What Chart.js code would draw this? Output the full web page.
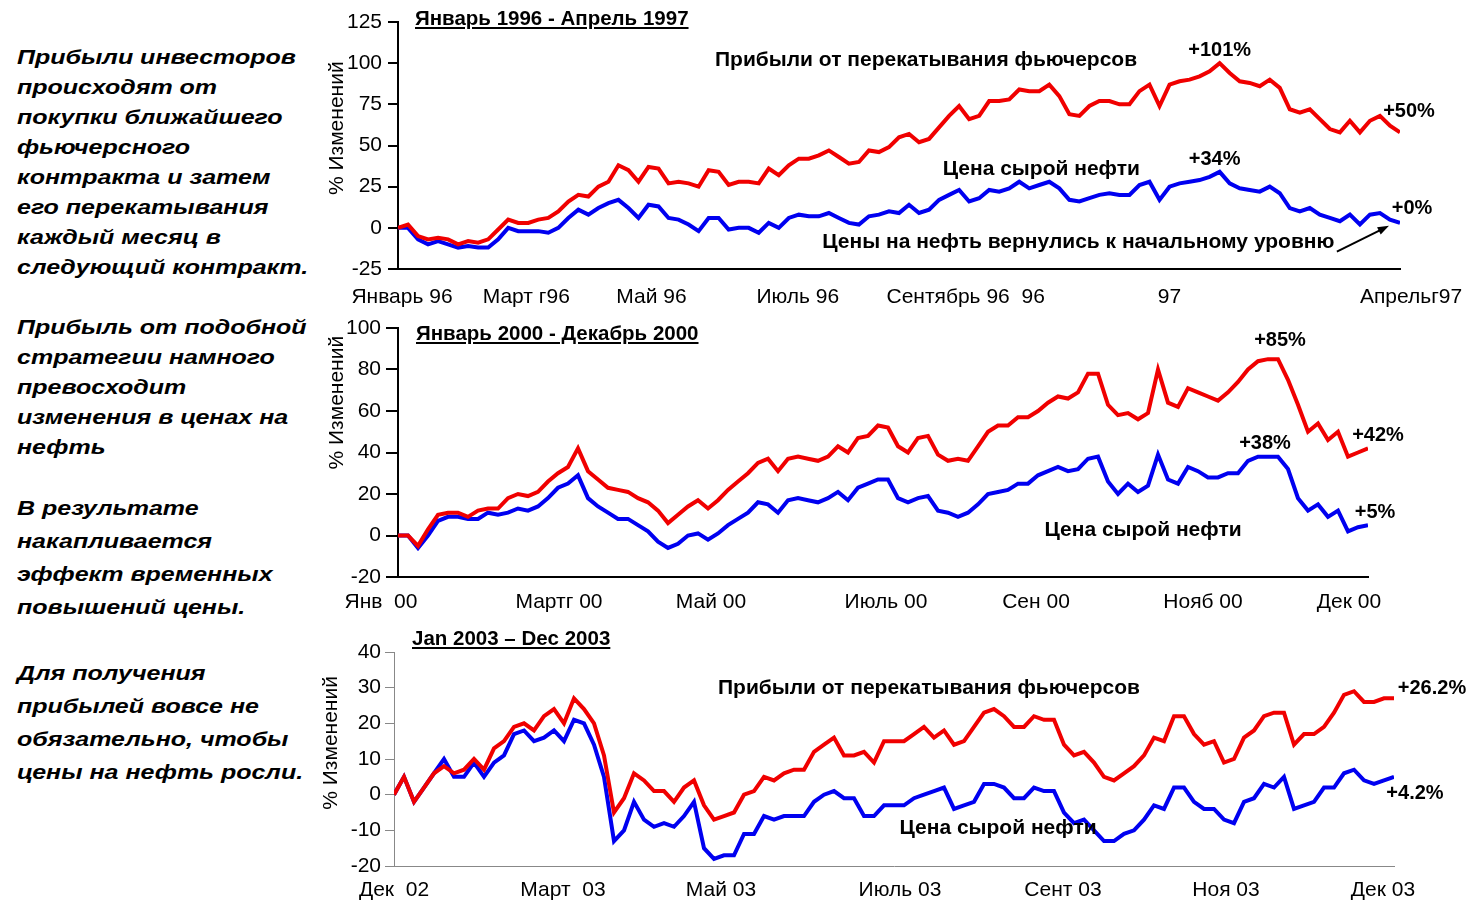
<!DOCTYPE html>
<html>
<head>
<meta charset="utf-8">
<script src="https://cdn.jsdelivr.net/npm/chart.js@4/dist/chart.umd.min.js"></script>
<style>
  body { margin:0; background:#fff; width:1482px; height:916px; overflow:hidden; position:relative;
         font-family:"Liberation Sans", Arial, sans-serif; color:#000; }
  .note { position:absolute; left:17px; font-weight:bold; font-style:italic; font-size:20px;
          transform:scaleX(1.25); transform-origin:0 0; white-space:nowrap; }
  .pan { position:absolute; left:320px; }
  .ttl { position:absolute; font-weight:bold; font-size:20.5px; line-height:24px;
         text-decoration:underline; white-space:nowrap; }
</style>
</head>
<body>

<div class="note" style="top:42px;line-height:30px">Прибыли инвесторов<br>происходят от<br>покупки ближайшего<br>фьючерсного<br>контракта и затем<br>его перекатывания<br>каждый месяц в<br>следующий контракт.</div>
<div class="note" style="top:312px;line-height:30px">Прибыль от подобной<br>стратегии намного<br>превосходит<br>изменения в ценах на<br>нефть</div>
<div class="note" style="top:492px;line-height:33px">В результате<br>накапливается<br>эффект временных<br>повышений цены.</div>
<div class="note" style="top:657px;line-height:33px">Для получения<br>прибылей вовсе не<br>обязательно, чтобы<br>цены на нефть росли.</div>

<canvas id="c1" class="pan" style="top:0px" width="1162" height="310"></canvas>
<canvas id="c2" class="pan" style="top:310px" width="1162" height="310"></canvas>
<canvas id="c3" class="pan" style="top:620px" width="1162" height="296"></canvas>

<div class="ttl" style="left:415px;top:6px">Январь 1996 - Апрель 1997</div>
<div class="ttl" style="left:416px;top:321px">Январь 2000 - Декабрь 2000</div>
<div class="ttl" style="left:412px;top:626px">Jan 2003 – Dec 2003</div>

<script>
// янв 1996 - апр 1997, % изменений
var redTop = [0,2,-5,-7,-6,-7,-10,-8,-9,-7,
  -1,5,3,3,5,6,10,16,20,19,
  25,28,38,35,28,37,36,27,28,27,
  25,35,34,26,28,28,27,36,32,38,
  42,42,44,47,43,39,40,47,46,49,
  55,57,52,54,61,68,74,66,68,77,
  77,78,84,83,83,87,80,69,68,74,
  77,77,75,75,83,87,74,87,89,90,
  92,95,100,94,89,88,86,90,85,72,
  70,72,66,60,58,65,58,65,68,62,
  58];
var blueTop = [0,0,-7,-10,-8,-10,-12,-11,-12,-12,
  -7,0,-2,-2,-2,-3,0,6,11,8,
  12,15,17,12,6,14,13,6,5,2,
  -2,6,6,-1,0,0,-3,3,0,6,
  8,7,7,9,6,3,2,7,8,10,
  9,14,9,11,17,20,23,16,18,23,
  22,24,28,24,26,28,24,17,16,18,
  20,21,20,20,26,28,17,25,27,28,
  29,31,34,27,24,23,22,25,21,12,
  10,12,8,6,4,8,2,8,9,5,
  3];
var topTickPos = [0.4, 12.8, 25.3, 39.9, 54.9, 63.4, 77, 101.1];
var topTickText = ['Январь 96', 'Март г96', 'Май 96', 'Июль 96', 'Сентябрь 96', '96', '97', 'Апрельг97'];

// янв 2000 - дек 2000
var redMid = [0,0,-5,3,10,11,11,9,12,13,
  13,18,20,19,21,26,30,33,42,31,
  27,23,22,21,18,16,12,6,10,14,
  17,13,17,22,26,30,35,37,31,37,
  38,37,36,38,43,40,47,48,53,52,
  43,40,47,48,39,36,37,36,43,50,
  53,53,57,57,60,64,67,66,69,78,
  78,63,58,59,56,59,80,64,62,71,
  69,67,65,69,74,80,84,85,85,75,
  63,50,54,46,50,38,40,42];
var blueMid = [0,0,-6,0,7,9,9,8,8,11,
  10,11,13,12,14,18,23,25,29,18,
  14,11,8,8,5,2,-3,-6,-4,0,
  1,-2,1,5,8,11,16,15,11,17,
  18,17,16,18,21,17,23,25,27,27,
  18,16,18,19,12,11,9,11,15,20,
  21,22,25,25,29,31,33,31,32,37,
  38,26,20,25,21,24,39,27,25,33,
  31,28,28,30,30,36,38,38,38,32,
  18,12,15,9,12,2,4,5];
var midTickPos = [-1.7, 16.1, 31.3, 48.8, 63.8, 80.5, 95.1];
var midTickText = ['Янв  00', 'Мартг 00', 'Май 00', 'Июль 00', 'Сен 00', 'Нояб 00', 'Дек 00'];

// jan 2003 - dec 2003
var redBot = [0,5,-2,2,6,8,6,7,10,7,
  13,15,19,20,18,22,24,20,27,24,
  20,11,-5,-1,6,4,1,1,-2,2,
  4,-3,-7,-6,-5,0,1,5,4,6,
  7,7,12,14,16,11,11,12,9,15,
  15,15,17,19,16,18,14,15,19,23,
  24,22,19,19,22,21,21,14,11,12,
  9,5,4,6,8,11,16,15,22,22,
  17,14,15,9,10,16,18,22,23,23,
  14,17,17,19,23,28,29,26,26,27,
  27];
var blueBot = [0,5,-2,2,6,10,5,5,9,5,
  9,11,17,18,15,16,18,15,21,20,
  14,5,-13,-10,-2,-7,-9,-8,-9,-6,
  -2,-15,-18,-17,-17,-11,-11,-6,-7,-6,
  -6,-6,-2,0,1,-1,-1,-6,-6,-3,
  -3,-3,-1,0,1,2,-4,-3,-2,3,
  3,2,-1,-1,2,1,1,-5,-8,-7,
  -10,-13,-13,-11,-10,-7,-3,-4,2,2,
  -2,-4,-4,-7,-8,-2,-1,3,2,5,
  -4,-3,-2,2,2,6,7,4,3,4,
  5];
var botTickPos = [0, 16.9, 32.7, 50.6, 66.9, 83.2, 98.9];
var botTickText = ['Дек  02', 'Март  03', 'Май 03', 'Июль 03', 'Сент 03', 'Ноя 03', 'Дек 03'];

var RED = '#f00000';
var BLUE = '#0000f0';
var FONT = '"Liberation Sans", Arial, sans-serif';

Chart.defaults.font.family = FONT;
Chart.defaults.color = '#000';

// подписи, стрелка и заголовок оси
function notesPlugin(cfg) {
  return {
    id: 'notes',
    afterDraw: function(chart) {
      var c = chart.ctx, xs = chart.scales.x, ys = chart.scales.y;
      c.save();
      c.fillStyle = '#000';
      c.textBaseline = 'middle';
      c.textAlign = 'center';
      cfg.texts.forEach(function(t) {
        c.font = t.f + ' ' + FONT;
        c.fillText(t.s, xs.getPixelForValue(t.x), ys.getPixelForValue(t.y));
      });
      if (cfg.arrow) {
        var a = cfg.arrow;
        var x1 = xs.getPixelForValue(a[0]), y1 = ys.getPixelForValue(a[1]);
        var x2 = xs.getPixelForValue(a[2]), y2 = ys.getPixelForValue(a[3]);
        var ang = Math.atan2(y2 - y1, x2 - x1);
        c.strokeStyle = '#000';
        c.lineWidth = 2;
        c.beginPath(); c.moveTo(x1, y1); c.lineTo(x2 - 8 * Math.cos(ang), y2 - 8 * Math.sin(ang)); c.stroke();
        c.beginPath();
        c.moveTo(x2, y2);
        c.lineTo(x2 - 12 * Math.cos(ang - 0.35), y2 - 12 * Math.sin(ang - 0.35));
        c.lineTo(x2 - 12 * Math.cos(ang + 0.35), y2 - 12 * Math.sin(ang + 0.35));
        c.closePath(); c.fill();
      }
      c.translate(cfg.yTitleX, ys.getPixelForValue(cfg.yTitleAt));
      c.rotate(-Math.PI / 2);
      c.font = '21px ' + FONT;
      c.fillText('% Изменений', 0, 0);
      c.restore();
    }
  };
}

function buildPanel(id, red, blue, yMin, yMax, yStep, xMax, tickPos, tickText, box, notes) {
  var ctx = document.getElementById(id).getContext('2d');
  var toXY = function(arr) { return arr.map(function(v, i) { return {x: i, y: v}; }); };
  return new Chart(ctx, {
    type: 'line',
    data: {
      datasets: [
        { label: 'Прибыли от перекатывания фьючерсов', data: toXY(red), borderColor: RED,
          borderWidth: 4, pointRadius: 0, fill: false, tension: 0 },
        { label: 'Цена сырой нефти', data: toXY(blue), borderColor: BLUE,
          borderWidth: 4, pointRadius: 0, fill: false, tension: 0 }
      ]
    },
    options: {
      responsive: false,
      animation: false,
      layout: { padding: { top: box.top, right: box.right, left: 0, bottom: 0 } },
      plugins: { legend: { display: false }, tooltip: { enabled: false } },
      scales: {
        x: {
          type: 'linear', min: 0, max: xMax,
          afterBuildTicks: function(axis) { axis.ticks = tickPos.map(function(v) { return {value: v}; }); },
          afterFit: function(axis) { axis.height = box.bottom; },
          grid: { display: false },
          border: { display: true, color: box.axis, width: box.aw },
          ticks: { autoSkip: false, maxRotation: 0, padding: box.xPad, font: { size: 21 },
                   callback: function(v, i) { return tickText[i]; } }
        },
        y: {
          min: yMin, max: yMax,
          afterFit: function(axis) { axis.width = box.left; },
          grid: { drawOnChartArea: false, drawTicks: true, tickLength: box.tick, color: box.axis, lineWidth: box.aw },
          border: { display: true, color: box.axis, width: box.aw },
          ticks: { stepSize: yStep, padding: box.yPad, font: { size: 21 } }
        }
      }
    },
    plugins: [notesPlugin(notes)]
  });
}

buildPanel('c1', redTop, blueTop, -25, 125, 25, 100, topTickPos, topTickText,
  { top: 22, bottom: 41, left: 78, right: 82, tick: 10, yPad: 6, xPad: 8, axis: '#000', aw: 2 },
  { yTitleX: 17, yTitleAt: 60.5, arrow: [93.7, -14.5, 98.9, 1.2],
    texts: [
      { s: 'Прибыли от перекатывания фьючерсов', f: 'bold 21px', x: 52.7, y: 101.7 },
      { s: '+101%', f: 'bold 20px', x: 82, y: 107.7 },
      { s: 'Цена сырой нефти', f: 'bold 21px', x: 64.2, y: 35.7 },
      { s: '+34%', f: 'bold 20px', x: 81.5, y: 41.8 },
      { s: '+50%', f: 'bold 20px', x: 100.9, y: 70.8 },
      { s: '+0%', f: 'bold 20px', x: 101.2, y: 11.5 },
      { s: 'Цены на нефть вернулись к начальному уровню', f: 'bold 21px', x: 67.9, y: -8.5 }
    ] });

buildPanel('c2', redMid, blueMid, -20, 100, 20, 97, midTickPos, midTickText,
  { top: 18, bottom: 43, left: 78, right: 114, tick: 12, yPad: 5, xPad: 5, axis: '#000', aw: 2 },
  { yTitleX: 17, yTitleAt: 64,
    texts: [
      { s: '+85%', f: 'bold 20px', x: 88.2, y: 94 },
      { s: '+38%', f: 'bold 20px', x: 86.7, y: 44.3 },
      { s: '+42%', f: 'bold 20px', x: 98, y: 48.2 },
      { s: '+5%', f: 'bold 20px', x: 97.7, y: 11 },
      { s: 'Цена сырой нефти', f: 'bold 21px', x: 74.5, y: 2.4 }
    ] });

buildPanel('c3', redBot, blueBot, -20, 40, 10, 100, botTickPos, botTickText,
  { top: 32, bottom: 50, left: 74, right: 88, tick: 9, yPad: 4, xPad: 4, axis: '#888', aw: 1 },
  { yTitleX: 11, yTitleAt: 14.5,
    texts: [
      { s: 'Прибыли от перекатывания фьючерсов', f: 'bold 21px', x: 53.5, y: 29.9 },
      { s: '+26.2%', f: 'bold 20px', x: 103.8, y: 29.9 },
      { s: '+4.2%', f: 'bold 20px', x: 102.1, y: 0.2 },
      { s: 'Цена сырой нефти', f: 'bold 21px', x: 60.4, y: -9.4 }
    ] });
</script>
</body>
</html>
